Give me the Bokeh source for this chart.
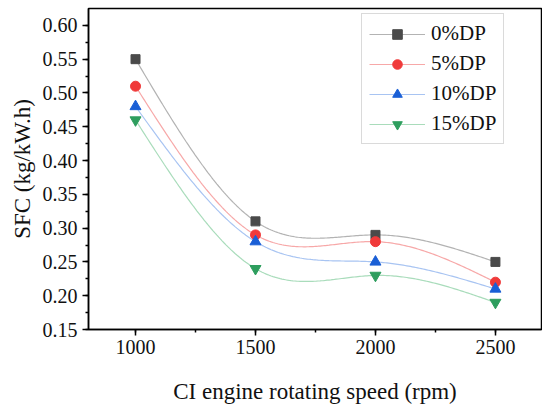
import numpy as np
from bokeh.plotting import figure
from bokeh.models import Legend, LegendItem, SingleIntervalTicker, CustomJSTickFormatter
from bokeh.embed import file_html
from bokeh.resources import INLINE

speeds = [1000, 1500, 2000, 2500]
series_names = ["0%DP", "5%DP", "10%DP", "15%DP"]
sfc_0 = [0.55, 0.31, 0.29, 0.25]
sfc_5 = [0.51, 0.29, 0.28, 0.22]
sfc_10 = [0.48, 0.28, 0.25, 0.21]
sfc_15 = [0.46, 0.24, 0.23, 0.19]

FONT = "Liberation Serif"

def natural_spline(x, y, n=200):
    x = np.asarray(x, float); y = np.asarray(y, float)
    m = len(x); h = np.diff(x)
    A = np.zeros((m, m)); b = np.zeros(m)
    A[0, 0] = 1; A[-1, -1] = 1
    for i in range(1, m - 1):
        A[i, i - 1] = h[i - 1]; A[i, i] = 2 * (h[i - 1] + h[i]); A[i, i + 1] = h[i]
        b[i] = 6 * ((y[i + 1] - y[i]) / h[i] - (y[i] - y[i - 1]) / h[i - 1])
    M = np.linalg.solve(A, b)
    xs = np.linspace(x[0], x[-1], n); ys = np.empty_like(xs)
    for k, xv in enumerate(xs):
        i = min(np.searchsorted(x, xv, side="right") - 1, m - 2)
        t1 = x[i + 1] - xv; t0 = xv - x[i]
        ys[k] = (M[i] * t1 ** 3 + M[i + 1] * t0 ** 3) / (6 * h[i]) \
            + (y[i] / h[i] - M[i] * h[i] / 6) * t1 + (y[i + 1] / h[i] - M[i + 1] * h[i] / 6) * t0
    return xs, ys

p = figure(width=542, height=410, output_backend="svg", toolbar_location=None,
           x_range=(804, 2692), y_range=(0.15, 0.625),
           min_border_left=88, min_border_right=1, min_border_top=8, min_border_bottom=81)
p.grid.visible = False
p.outline_line_color = "black"
p.outline_line_width = 1.5

styles = [
    dict(line="#b3b3b3", fill="#4a4a4a", marker="square", size=9),
    dict(line="#f7a8a8", fill="#f03a3a", marker="circle", size=10),
    dict(line="#a8c4f2", fill="#1a5fd6", marker="triangle", size=11),
    dict(line="#a9dcbb", fill="#2e9e5e", marker="inverted_triangle", size=11),
]
items = []
for name, vals, st in zip(series_names, [sfc_0, sfc_5, sfc_10, sfc_15], styles):
    xs, ys = natural_spline(speeds, vals)
    r1 = p.line(xs, ys, line_color=st["line"], line_width=1.2)
    r2 = p.scatter(speeds, vals, marker=st["marker"], size=st["size"],
                   fill_color=st["fill"], line_color=st["fill"])
    items.append(LegendItem(label=name, renderers=[r1, r2]))

legend = Legend(items=items, location=(273, 185), border_line_color="#b5b5b5",
                border_line_width=1, glyph_width=56, glyph_height=24, label_height=24,
                spacing=5, padding=7, margin=0, label_standoff=6,
                label_text_font=FONT, label_text_font_size="21px", label_text_color="#111111",
                background_fill_alpha=1)
p.add_layout(legend)

for ax in (p.xaxis, p.yaxis):
    ax.axis_line_width = 1.5
    ax.axis_line_color = "black"
    ax.major_tick_line_width = 1.5
    ax.minor_tick_line_width = 1.5
    ax.major_tick_in = 0
    ax.major_tick_out = 6
    ax.minor_tick_in = 0
    ax.minor_tick_out = 3
    ax.major_label_text_font = FONT
    ax.major_label_text_font_size = "20px"
    ax.major_label_text_color = "#111111"
    ax.axis_label_text_font = FONT
    ax.axis_label_text_font_size = "23px"
    ax.axis_label_text_font_style = "normal"
    ax.axis_label_text_color = "#111111"

p.xaxis.ticker = SingleIntervalTicker(interval=500, num_minor_ticks=2)
p.yaxis.ticker = SingleIntervalTicker(interval=0.05, num_minor_ticks=2)
p.yaxis.formatter = CustomJSTickFormatter(code="return tick.toFixed(2);")
p.xaxis.axis_label = "CI engine rotating speed (rpm)"
p.yaxis.axis_label = "SFC (kg/kW.h)"
p.xaxis.major_label_standoff = 4
p.xaxis.axis_label_standoff = 22
p.yaxis.major_label_standoff = 5
p.yaxis.axis_label_standoff = 5

open("out.html", "w").write(file_html(p, INLINE))
